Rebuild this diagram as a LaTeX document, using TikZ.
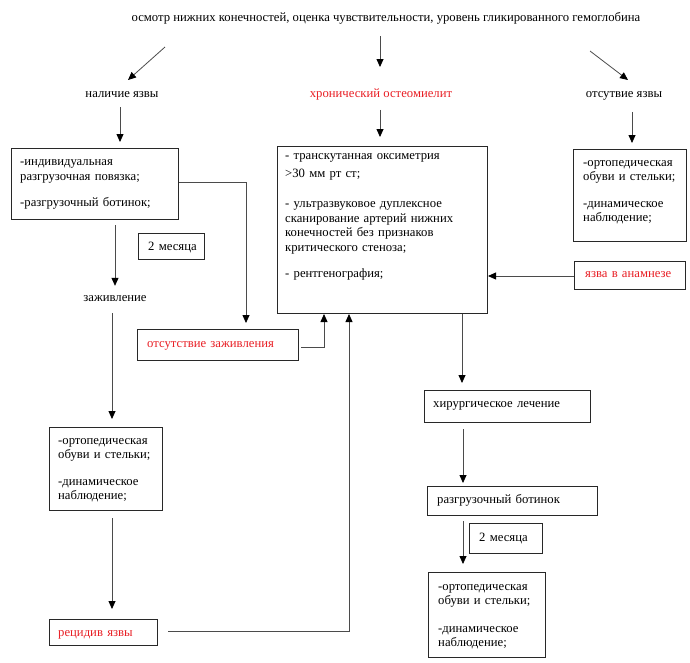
\documentclass[tikz,border=0pt]{standalone}
\usepackage{fontspec}
\setmainfont{Liberation Serif}
\usetikzlibrary{arrows.meta}
\definecolor{txtred}{RGB}{232,30,36}
\definecolor{linegray}{RGB}{75,75,75}
\definecolor{boxgray}{RGB}{40,40,40}
\begin{document}
\begin{tikzpicture}[x=1pt,y=-1pt,
  box/.style={draw=boxgray, line width=1pt, inner sep=0pt, anchor=north west},
  txt/.style={inner sep=0pt, anchor=base west, align=left, text width=220pt},
  lbl/.style={inner sep=0pt, anchor=base},
  arr/.style={-{Triangle[length=8pt,width=7pt,color=black]}, line width=0.8pt, draw=linegray},
  font=\fontsize{12.7}{15}\selectfont]
\useasboundingbox (0,0) rectangle (690,662);
% top labels
\node[lbl] (top) at (386,21) {осмотр нижних конечностей, оценка чувствительности, уровень гликированного гемоглобина};
\node[lbl] (nal) at (122,97) {наличие язвы};
\node[lbl, text=txtred] (hron) at (381,97) {хронический остеомиелит};
\node[lbl] (ots) at (624,97) {отсутвие язвы};
\node[lbl] (zaj) at (115,301) {заживление};
% boxes
\node[box, minimum width=167pt, minimum height=71pt] (b1) at (11,148) {};
\node[txt] (b1t) at (20,165) {-индивидуальная\\разгрузочная повязка;\\[11pt]-разгрузочный ботинок;};
\node[box, minimum width=66pt, minimum height=26pt] (m1) at (138,233) {};
\node[txt] (m1t) at (148,250) {2 месяца};
\node[box, minimum width=161pt, minimum height=31pt] (abs) at (137,329) {};
\node[txt, text=txtred] (abst) at (147,347) {отсутствие заживления};
\node[box, minimum width=113pt, minimum height=83pt] (ol) at (49,427) {};
\node[txt] (olt) at (58,444) {-ортопедическая\\[-1pt]обуви и стельки;\\[12pt]-динамическое\\[-1pt]наблюдение;};
\node[box, minimum width=108pt, minimum height=26pt] (rec) at (49,619) {};
\node[txt, text=txtred] (rect) at (58,636) {рецидив язвы};
\node[box, minimum width=210pt, minimum height=167pt] (cen) at (277,146) {};
\node[txt] (cent) at (285,159) {- транскутанная оксиметрия\\[3pt]>30 мм рт ст;\\[15pt]- ультразвуковое дуплексное\\сканирование артерий нижних\\[-0.5pt]конечностей без признаков\\[-0.5pt]критического стеноза;\\[11pt]- рентгенография;};
\node[box, minimum width=113pt, minimum height=92pt] (or) at (573,149) {};
\node[txt] (ort) at (583,166) {-ортопедическая\\[-1pt]обуви и стельки;\\[12pt]-динамическое\\[-1pt]наблюдение;};
\node[box, minimum width=111pt, minimum height=28pt] (an) at (574,261) {};
\node[txt, text=txtred] (ant) at (585,277) {язва в анамнезе};
\node[box, minimum width=166pt, minimum height=32pt] (hir) at (424,390) {};
\node[txt] (hirt) at (433,407) {хирургическое лечение};
\node[box, minimum width=170pt, minimum height=29pt] (raz) at (427,486) {};
\node[txt] (razt) at (437,503) {разгрузочный ботинок};
\node[box, minimum width=73pt, minimum height=30pt] (m2) at (469,523) {};
\node[txt] (m2t) at (479,541) {2 месяца};
\node[box, minimum width=117pt, minimum height=85pt] (ob) at (428,572) {};
\node[txt] (obt) at (438,590) {-ортопедическая\\[-1pt]обуви и стельки;\\[13pt]-динамическое\\[-1pt]наблюдение;};
% free arrow coordinates
\coordinate (a1s) at (165,47); \coordinate (a1e) at (128,80);
\coordinate (a2s) at (380,36); \coordinate (a2e) at (380,67);
\coordinate (a3s) at (590,51); \coordinate (a3e) at (628,80);
\draw[arr] (a1s) -- (a1e);
\draw[arr] (a2s) -- (a2e);
\draw[arr] (a3s) -- (a3e);
% connectors
\draw[arr, shorten >=6pt] (nal.south -| 120,0) ++(0,10) -- (b1.north -| 120,0);
\draw[arr, shorten >=9pt] (hron.south -| 380,0) ++(0,10) -- (cen.north -| 380,0);
\draw[arr, shorten >=6pt] (ots.south -| 632,0) ++(0,12) -- (or.north -| 632,0);
\draw[arr, shorten <=5pt, shorten >=9pt] (b1.south -| 115,0) -- (zaj.north -| 115,0);
\draw[arr, shorten >=6pt] (b1.east |- 0,182) -| (abs.north -| 246,0);
\draw[arr, shorten <=12pt, shorten >=8pt] (zaj.south -| 112,0) -- (ol.north -| 112,0);
\draw[arr, shorten <=7pt, shorten >=10pt] (ol.south -| 112,0) -- (rec.north -| 112,0);
\draw[arr, shorten <=10pt] (rec.east |- 0,631) -| (cen.south -| 349,0);
\draw[arr, shorten <=2pt] (abs.east |- 0,347) -| (cen.south -| 324,0);
\draw[arr] (an.west |- 0,276) -- (cen.east |- 0,276);
\draw[arr, shorten >=7pt] (cen.south -| 462,0) -- (hir.north -| 462,0);
\draw[arr, shorten <=6pt, shorten >=3pt] (hir.south -| 463,0) -- (raz.north -| 463,0);
\draw[arr, shorten <=5pt, shorten >=8pt] (raz.south -| 463,0) -- (ob.north -| 463,0);
\end{tikzpicture}
\end{document}
